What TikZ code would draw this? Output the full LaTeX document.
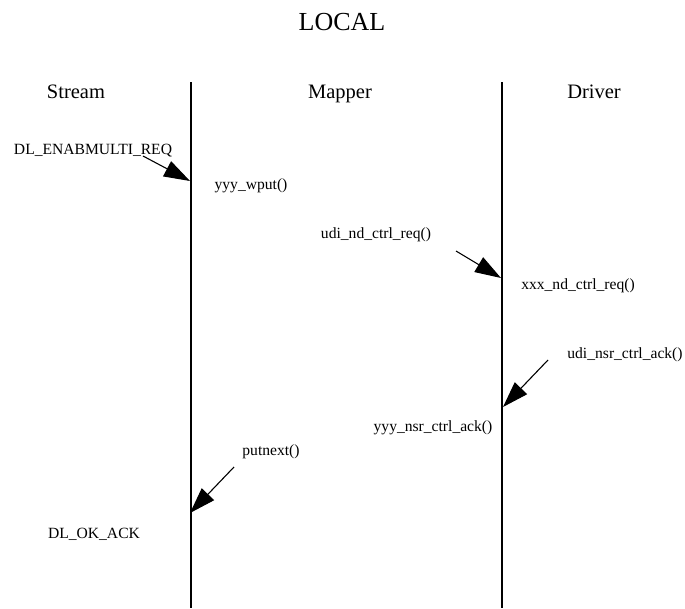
\documentclass[tikz,border=0pt]{standalone}
\usepackage{fontspec}
\setmainfont{Liberation Serif}
\usetikzlibrary{arrows.meta}
\begin{document}
\begin{tikzpicture}[x=1pt,y=-1pt,
  titletext/.style={font=\fontsize{26}{30}\selectfont, anchor=base, inner sep=0pt},
  headtext/.style={font=\fontsize{20.5}{24}\selectfont, anchor=base, inner sep=0pt},
  calltext/.style={font=\fontsize{15.6}{18}\selectfont, anchor=base, inner sep=0pt},
  lifeline/.style={line width=2pt},
  msg/.style={line width=1.1pt, -{Triangle[length=26pt,width=17pt]}}]
\useasboundingbox (0,0) rectangle (685,608);

% title and column headings
\node[titletext] (title) at (342,30) {LOCAL};
\node[headtext] (stream) at (76,98) {Stream};
\node[headtext] (mapper) at (340,98) {Mapper};
\node[headtext] (driver) at (594,98) {Driver};

% lifelines between the columns
\coordinate (l1top) at (191,82);
\coordinate (l1bot) at (191,608);
\coordinate (l2top) at (502,82);
\coordinate (l2bot) at (502,608);
\draw[lifeline] (l1top) -- (l1bot);
\draw[lifeline] (l2top) -- (l2bot);

% call labels
\node[calltext] (enab) at (93,154) {DL\_ENABMULTI\_REQ};
\node[calltext] (wput) at (251,189) {yyy\_wput()};
\node[calltext] (udireq) at (376,238) {udi\_nd\_ctrl\_req()};
\node[calltext] (xxxreq) at (578,289) {xxx\_nd\_ctrl\_req()};
\node[calltext] (udiack) at (625,358) {udi\_nsr\_ctrl\_ack()};
\node[calltext] (yyyack) at (433,431) {yyy\_nsr\_ctrl\_ack()};
\node[calltext] (putnext) at (271,455) {putnext()};
\node[calltext] (okack) at (94,538) {DL\_OK\_ACK};

% message arrows
\coordinate (a1s) at (143,156);
\coordinate (a1t) at (190,181);
\coordinate (a2s) at (456,251);
\coordinate (a2t) at (501,278);
\coordinate (a3s) at (548,360);
\coordinate (a3t) at (503,407);
\coordinate (a4s) at (234,467);
\coordinate (a4t) at (190,513);
\draw[msg] (a1s) -- (a1t);
\draw[msg] (a2s) -- (a2t);
\draw[msg] (a3s) -- (a3t);
\draw[msg] (a4s) -- (a4t);
\end{tikzpicture}
\end{document}
